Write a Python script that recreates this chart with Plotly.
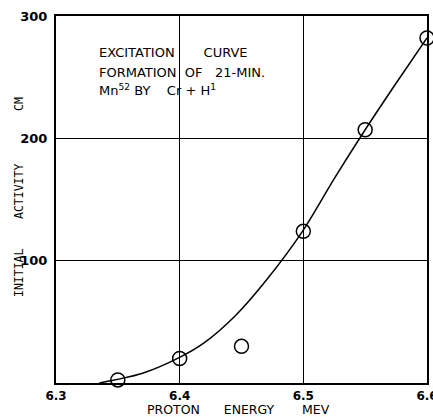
import plotly.graph_objects as go

# Measured points
pt_energy = [6.35, 6.40, 6.45, 6.50, 6.55, 6.60]
pt_activity = [2.5, 20, 30, 124, 207, 282]

# Hand-drawn curve
curve_energy = [6.335, 6.35, 6.37, 6.40, 6.42, 6.445, 6.47, 6.50, 6.525, 6.55, 6.575, 6.60]
curve_activity = [0, 3, 8, 21, 33, 55, 84, 125, 167, 207, 245, 282]

x_ticks = [6.3, 6.4, 6.5, 6.6]
x_tick_labels = ["6.3", "6.4", "6.5", "6.6"]
y_ticks = [100, 200, 300]
y_tick_labels = ["100", "200", "300"]

FONT = "DejaVu Sans"

fig = go.Figure()
fig.add_trace(go.Scatter(x=curve_energy, y=curve_activity, mode="lines",
                         line=dict(color="black", width=1.5, shape="spline", smoothing=0.8),
                         hoverinfo="skip", showlegend=False, cliponaxis=False))
fig.add_trace(go.Scatter(x=pt_energy, y=pt_activity, mode="markers",
                         marker=dict(symbol="circle-open", size=14, color="black",
                                     line=dict(color="black", width=1.5)),
                         showlegend=False, cliponaxis=False))

fig.update_layout(
    width=433, height=417,
    margin=dict(l=56, r=6, t=16, b=34),
    paper_bgcolor="white", plot_bgcolor="white",
    font=dict(family=FONT, color="black", size=12),
    xaxis=dict(range=[6.3, 6.6], tickvals=x_ticks, ticktext=x_tick_labels,
               showgrid=True, gridcolor="black", gridwidth=1.3,
               showline=True, linecolor="black", linewidth=2, mirror=True,
               ticks="", zeroline=False, ticklabeloverflow="allow", automargin=False,
               ticklabelstandoff=1,
               tickfont=dict(size=12, family=FONT, weight="bold")),
    yaxis=dict(range=[0, 300], tickvals=y_ticks, ticktext=y_tick_labels,
               showgrid=True, gridcolor="black", gridwidth=1.3,
               showline=True, linecolor="black", linewidth=2, mirror=True,
               ticks="", zeroline=False, ticklabeloverflow="allow", automargin=False,
               ticklabelstandoff=4,
               tickfont=dict(size=13, family=FONT, weight="bold")),
)

def px(xp):
    return (xp - 56) / 371

def py(yp):
    return (383 - yp) / 367

ann = dict(xref="paper", yref="paper", showarrow=False, font=dict(size=13, family=FONT),
           xanchor="left", yanchor="middle")
x0 = px(97)
fig.add_annotation(text="EXCITATION" + "&nbsp;" * 7 + "CURVE", x=x0, y=py(52), **ann)
fig.add_annotation(text="FORMATION" + "&nbsp;" * 2 + "OF" + "&nbsp;" * 3 + "21-MIN.", x=x0, y=py(72), **ann)
fig.add_annotation(text="Mn<sup>52</sup>" + "&nbsp;" + "BY" + "&nbsp;" * 4 + "Cr + H<sup>1</sup>",
                   x=x0, y=py(90), **ann)

fig.add_annotation(text="PROTON" + "&nbsp;" * 6 + "ENERGY" + "&nbsp;" * 7 + "MEV",
                   x=px(145), y=py(409.5), xref="paper", yref="paper", showarrow=False,
                   xanchor="left", yanchor="middle", font=dict(size=12.5, family=FONT))

YFONT = dict(size=11.5, family="DejaVu Sans Mono")
yx = px(19)
for txt, yc in [("INITIAL", 273), ("ACTIVITY", 192), ("CM", 104)]:
    fig.add_annotation(text=txt, xref="paper", yref="paper", x=yx, y=py(yc),
                       textangle=-90, showarrow=False, xanchor="center", yanchor="middle", font=YFONT)

fig.write_html("out.html", post_script="document.body.style.margin='0';",
               config={"displayModeBar": False})
